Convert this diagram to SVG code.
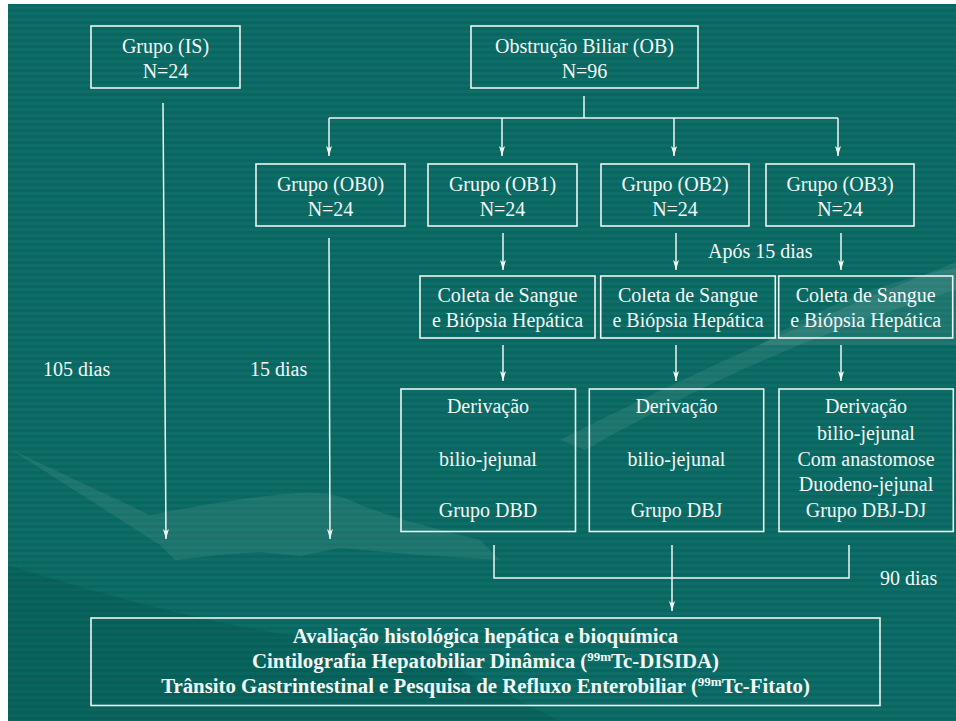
<svg xmlns="http://www.w3.org/2000/svg" width="956" height="721" viewBox="0 0 956 721" font-family="Liberation Serif, serif">
  <defs>
    <pattern id="stripes" x="0" y="0" width="956" height="6" patternUnits="userSpaceOnUse">
      <rect x="0" y="0" width="956" height="3" fill="#0e6d67"/>
      <rect x="0" y="3" width="956" height="3" fill="#0a6660"/>
    </pattern>
    <marker id="arr" viewBox="0 0 10 6" refX="10" refY="3" markerWidth="10" markerHeight="6" markerUnits="userSpaceOnUse" orient="auto">
      <path d="M0,0 L10,3 L0,6 L2.5,3 z" fill="#f4f8f6"/>
    </marker>
    <style>
      .box { fill: none; stroke: #eef4f2; stroke-width: 1.6; }
      text { font-size: 20px; fill: #f4f8f6; }
      .t { text-anchor: middle; }
      .tb { font-weight: bold; font-size: 20.8px; text-anchor: middle; }
      .sup { font-size: 13px; }
      .ln { fill: none; stroke: #f0f6f4; stroke-width: 1.5; }
      .ar { fill: none; stroke: #f0f6f4; stroke-width: 1.5; marker-end: url(#arr); }
      .sw { fill: #ffffff; fill-opacity: 0.08; }
      .dk { fill: #003c38; fill-opacity: 0.15; }
    </style>
  </defs>

  <!-- background -->
  <rect x="0" y="0" width="956" height="721" fill="#ffffff"/>
  <rect x="8" y="4" width="948" height="717" fill="url(#stripes)"/>

  <!-- decorative swirls -->
  <g id="decor">
    <path class="dk" d="M8,565 C120,600 260,640 420,650 L560,721 L8,721 Z"/>
    <path class="sw" d="M10,449 L150,515 C200,505 260,495 300,493 C330,492 345,497 360,505 C400,520 440,530 480,540 L500,560 L420,555 L340,548 L300,556 L260,552 L220,555 L175,560 L160,545 Z"/>
    <path class="sw" d="M560,440 C650,395 760,340 956,262 L956,290 C820,330 700,385 585,450 Z"/>
    <path class="sw" d="M760,345 C820,305 890,280 956,268 L956,345 Z"/>
  </g>

  <!-- connectors -->
  <g id="connectors">
    <line class="ln" x1="584" y1="96" x2="584" y2="118"/>
    <line class="ln" x1="329" y1="118" x2="838" y2="118"/>
    <line class="ar" x1="329" y1="118" x2="329" y2="156"/>
    <line class="ar" x1="502" y1="118" x2="502" y2="156"/>
    <line class="ar" x1="674" y1="118" x2="674" y2="156"/>
    <line class="ar" x1="838" y1="118" x2="838" y2="156"/>

    <line class="ar" x1="163" y1="103" x2="166" y2="539"/>
    <line class="ar" x1="329" y1="238" x2="330" y2="539"/>

    <line class="ar" x1="503" y1="233" x2="503" y2="270"/>
    <line class="ar" x1="676" y1="233" x2="676" y2="270"/>
    <line class="ar" x1="841" y1="233" x2="841" y2="270"/>

    <line class="ar" x1="503" y1="345" x2="503" y2="381"/>
    <line class="ar" x1="676" y1="345" x2="676" y2="381"/>
    <line class="ar" x1="841" y1="345" x2="841" y2="381"/>

    <polyline class="ln" points="494,545 494,578 849,578 849,545"/>
    <line class="ar" x1="672" y1="545" x2="672" y2="611"/>
  </g>

  <!-- free labels -->
  <g id="labels">
    <text x="43" y="376">105 dias</text>
    <text x="250" y="376">15 dias</text>
    <text x="708" y="258">Após 15 dias</text>
    <text x="880" y="585">90 dias</text>
  </g>

  <!-- nodes -->
  <g id="node-is">
    <rect class="box" x="91" y="26" width="149" height="62"/>
    <text class="t" x="165.5" y="53">Grupo (IS)</text>
    <text class="t" x="165.5" y="78">N=24</text>
  </g>
  <g id="node-ob">
    <rect class="box" x="471" y="26" width="227" height="62"/>
    <text class="t" x="584.5" y="53">Obstrução Biliar (OB)</text>
    <text class="t" x="584.5" y="78">N=96</text>
  </g>
  <g id="node-ob0">
    <rect class="box" x="256" y="164" width="149" height="62"/>
    <text class="t" x="330.5" y="191">Grupo (OB0)</text>
    <text class="t" x="330.5" y="216">N=24</text>
  </g>
  <g id="node-ob1">
    <rect class="box" x="428" y="164" width="149" height="62"/>
    <text class="t" x="502.5" y="191">Grupo (OB1)</text>
    <text class="t" x="502.5" y="216">N=24</text>
  </g>
  <g id="node-ob2">
    <rect class="box" x="601" y="164" width="148" height="62"/>
    <text class="t" x="675" y="191">Grupo (OB2)</text>
    <text class="t" x="675" y="216">N=24</text>
  </g>
  <g id="node-ob3">
    <rect class="box" x="766" y="164" width="148" height="62"/>
    <text class="t" x="840" y="191">Grupo (OB3)</text>
    <text class="t" x="840" y="216">N=24</text>
  </g>

  <g id="node-coleta1">
    <rect class="box" x="420" y="276" width="175" height="62"/>
    <text class="t" x="507.5" y="302">Coleta de Sangue</text>
    <text class="t" x="507.5" y="327">e Biópsia Hepática</text>
  </g>
  <g id="node-coleta2">
    <rect class="box" x="600.7" y="276" width="174.6" height="62"/>
    <text class="t" x="688" y="302">Coleta de Sangue</text>
    <text class="t" x="688" y="327">e Biópsia Hepática</text>
  </g>
  <g id="node-coleta3">
    <rect class="box" x="778.7" y="276" width="174" height="62"/>
    <text class="t" x="865.7" y="302">Coleta de Sangue</text>
    <text class="t" x="865.7" y="327">e Biópsia Hepática</text>
  </g>

  <g id="node-dbd">
    <rect class="box" x="401" y="389" width="174.5" height="142.5"/>
    <text class="t" x="488" y="413">Derivação</text>
    <text class="t" x="488" y="466">bilio-jejunal</text>
    <text class="t" x="488" y="517">Grupo DBD</text>
  </g>
  <g id="node-dbj">
    <rect class="box" x="589.3" y="389" width="174.4" height="142.5"/>
    <text class="t" x="676.5" y="413">Derivação</text>
    <text class="t" x="676.5" y="466">bilio-jejunal</text>
    <text class="t" x="676.5" y="517">Grupo DBJ</text>
  </g>
  <g id="node-dbjdj">
    <rect class="box" x="779" y="389" width="174.3" height="142.5"/>
    <text class="t" x="866" y="413">Derivação</text>
    <text class="t" x="866" y="440">bilio-jejunal</text>
    <text class="t" x="866" y="466">Com anastomose</text>
    <text class="t" x="866" y="491">Duodeno-jejunal</text>
    <text class="t" x="866" y="517">Grupo DBJ-DJ</text>
  </g>

  <g id="node-avaliacao">
    <rect class="box" x="91" y="618" width="789" height="87.5"/>
    <text class="tb" x="485.5" y="643">Avaliação histológica hepática e bioquímica</text>
    <text class="tb" x="485.5" y="668">Cintilografia Hepatobiliar Dinâmica (<tspan class="sup" dy="-7">99m</tspan><tspan dy="7">Tc-DISIDA)</tspan></text>
    <text class="tb" x="485.5" y="693">Trânsito Gastrintestinal e Pesquisa de Refluxo Enterobiliar (<tspan class="sup" dy="-7">99m</tspan><tspan dy="7">Tc-Fitato)</tspan></text>
  </g>
</svg>
